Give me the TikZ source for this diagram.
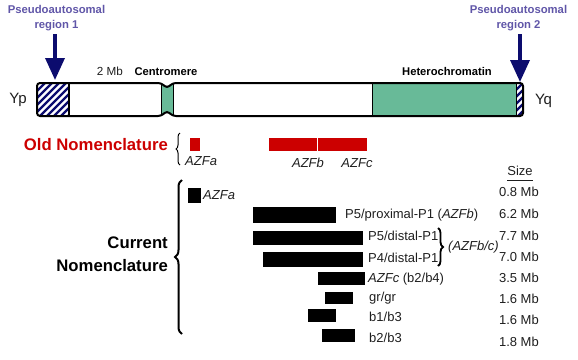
\documentclass[tikz,border=0pt]{standalone}
\usepackage{fontspec}
\setmainfont{Liberation Sans}
\usetikzlibrary{arrows.meta,decorations.pathreplacing}
\definecolor{navy}{RGB}{12,12,110}
\definecolor{purp}{RGB}{96,86,168}
\definecolor{hetgreen}{RGB}{104,186,152}
\definecolor{oldred}{RGB}{204,0,0}
\definecolor{txtgray}{RGB}{30,30,30}
\begin{document}
\begin{tikzpicture}[x=1pt,y=-1pt,
  txt/.style={inner sep=0pt, text height=0.716em, text depth=0pt, text=txtgray},
  lab/.style={txt, font=\fontsize{13}{15}\selectfont, anchor=west},
  sizelab/.style={txt, font=\fontsize{13}{15}\selectfont, anchor=east},
  small/.style={txt, font=\fontsize{11.2}{13}\selectfont\bfseries, text=black},
  pa/.style={font=\fontsize{11.3}{15}\selectfont\bfseries, text=purp, align=center, inner sep=0pt},
  paarrow/.style={navy, line width=3.5pt, -{Triangle[width=19pt,length=22pt]}},
  title/.style={font=\fontsize{16.7}{23}\selectfont\bfseries, align=right, anchor=east, inner sep=0pt},
  bar/.style={fill=black, draw=none, inner sep=0pt, anchor=north west},
  redbar/.style={fill=oldred, draw=none, inner sep=0pt, anchor=north west},
  bracestyle/.style={decorate, black}
]
\useasboundingbox (0,0) rectangle (578,359);

% ---------- chromosome ----------
\def\chrompath{(37,83) -- (161,83) -- (167,88) -- (173,83) -- (523,83) -- (523,116) -- (173,116) -- (167,111) -- (161,116) -- (37,116) -- cycle}
\begin{scope}
  \clip[rounded corners=3pt] \chrompath;
  \fill[white] (30,78) rectangle (530,122);
  \fill[hetgreen] (161,78) rectangle (173,122);
  \fill[hetgreen] (372,78) rectangle (516,122);
  \begin{scope}
    \clip (37,78) rectangle (69,122);
    \foreach \i in {-8,-1,...,72} \draw[navy, line width=2.4pt] (\i,122) -- ++(44,-44);
  \end{scope}
  \begin{scope}
    \clip (516,78) rectangle (524,122);
    \foreach \i in {470,477,...,530} \draw[navy, line width=2.2pt] (\i,122) -- ++(44,-44);
  \end{scope}
\end{scope}
\draw[line width=1.6pt] (69,83) -- (69,116);
\draw[line width=0.8pt] (161,83) -- (161,116) (173,83) -- (173,116) (372,83) -- (372,116) (516,83) -- (516,116);
\draw[line width=2pt, rounded corners=3pt] \chrompath;

\node[txt, font=\fontsize{15}{17}\selectfont] (yp) at (18,100) {Yp};
\node[txt, font=\fontsize{15}{17}\selectfont] (yq) at (543.5,101) {Yq};
\node[txt, font=\fontsize{11.7}{13}\selectfont] (twomb) at (110,72) {2 Mb};
\node[small] (centro) at (166,72) {Centromere};
\node[small] (hetero) at (447,72) {Heterochromatin};

% ---------- pseudoautosomal arrows ----------
\node[pa] (pa1) at (56.5,18.5) {Pseudoautosomal\\region 1};
\node[pa] (pa2) at (518.5,18.5) {Pseudoautosomal\\region 2};
\coordinate (pa1tip) at (55,80);
\coordinate (pa2tip) at (520,82);
\draw[paarrow] (pa1tip |- pa1.south) ++(0,3) -- (pa1tip);
\draw[paarrow] (pa2tip |- pa2.south) ++(0,3) -- (pa2tip);

% ---------- old nomenclature ----------
\node[title, text=oldred] (old) at (168,145) {Old Nomenclature};
\draw[bracestyle, decoration={brace, amplitude=4pt}, line width=1pt] (180,165) -- (180,133);
\node[redbar, minimum width=10, minimum height=13] (oa) at (190,138) {};
\node[redbar, minimum width=47.5, minimum height=13] (ob) at (269,138) {};
\node[redbar, minimum width=49, minimum height=13] (oc) at (318,138) {};
\node[lab, font=\fontsize{13}{15}\selectfont\itshape] (oalab) at (185,162) {AZFa};
\node[txt, font=\fontsize{13}{15}\selectfont\itshape] (oblab) at (308,164) {AZFb};
\node[txt, font=\fontsize{13}{15}\selectfont\itshape] (oclab) at (357,164) {AZFc};

% ---------- current nomenclature ----------
\node[title, text=black] (cur) at (168,254) {Current\\Nomenclature};
\draw[bracestyle, decoration={brace, amplitude=7pt}, line width=2pt] (182,334) -- (182,180);

\node[bar, minimum width=13, minimum height=15] (ca) at (188,188) {};
\node[bar, minimum width=83, minimum height=16] (b1) at (253,207) {};
\node[bar, minimum width=110, minimum height=14] (b2) at (253,231) {};
\node[bar, minimum width=100, minimum height=15] (b3) at (263,252) {};
\node[bar, minimum width=47, minimum height=13] (b4) at (318,272) {};
\node[bar, minimum width=28, minimum height=12] (b5) at (325,292) {};
\node[bar, minimum width=28, minimum height=13] (b6) at (308,309) {};
\node[bar, minimum width=33, minimum height=13] (b7) at (322,329) {};

\node[lab, font=\fontsize{13}{15}\selectfont\itshape] (calab) at (203,196) {AZFa};
\node[lab] (l1) at (345,215) {P5/proximal-P1 (\textit{AZFb})};
\node[lab] (l2) at (368,237) {P5/distal-P1};
\node[lab] (l3) at (368,259) {P4/distal-P1};
\draw[bracestyle, decoration={brace, amplitude=5pt}, line width=1.8pt] (438,228) -- (438,266);
\node[lab, font=\fontsize{13}{15}\selectfont\itshape] (l23) at (448,247) {(AZFb/c)};
\node[lab] (l4) at (368,279) {\textit{AZFc} (b2/b4)};
\node[lab] (l5) at (369,298) {gr/gr};
\node[lab] (l6) at (369,318) {b1/b3};
\node[lab] (l7) at (369,339) {b2/b3};

% ---------- sizes ----------
\node[txt, font=\fontsize{13}{15}\selectfont] (size) at (520,172) {Size};
\draw[line width=0.8pt, txtgray] ([yshift=-5pt]size.south west) -- ([yshift=-5pt]size.south east);
\node[sizelab] (s1) at (539,193) {0.8 Mb};
\node[sizelab] (s2) at (539,215) {6.2 Mb};
\node[sizelab] (s3) at (539,237) {7.7 Mb};
\node[sizelab] (s4) at (539,258) {7.0 Mb};
\node[sizelab] (s5) at (539,279) {3.5 Mb};
\node[sizelab] (s6) at (539,300) {1.6 Mb};
\node[sizelab] (s7) at (539,321) {1.6 Mb};
\node[sizelab] (s8) at (539,343) {1.8 Mb};
\end{tikzpicture}
\end{document}
